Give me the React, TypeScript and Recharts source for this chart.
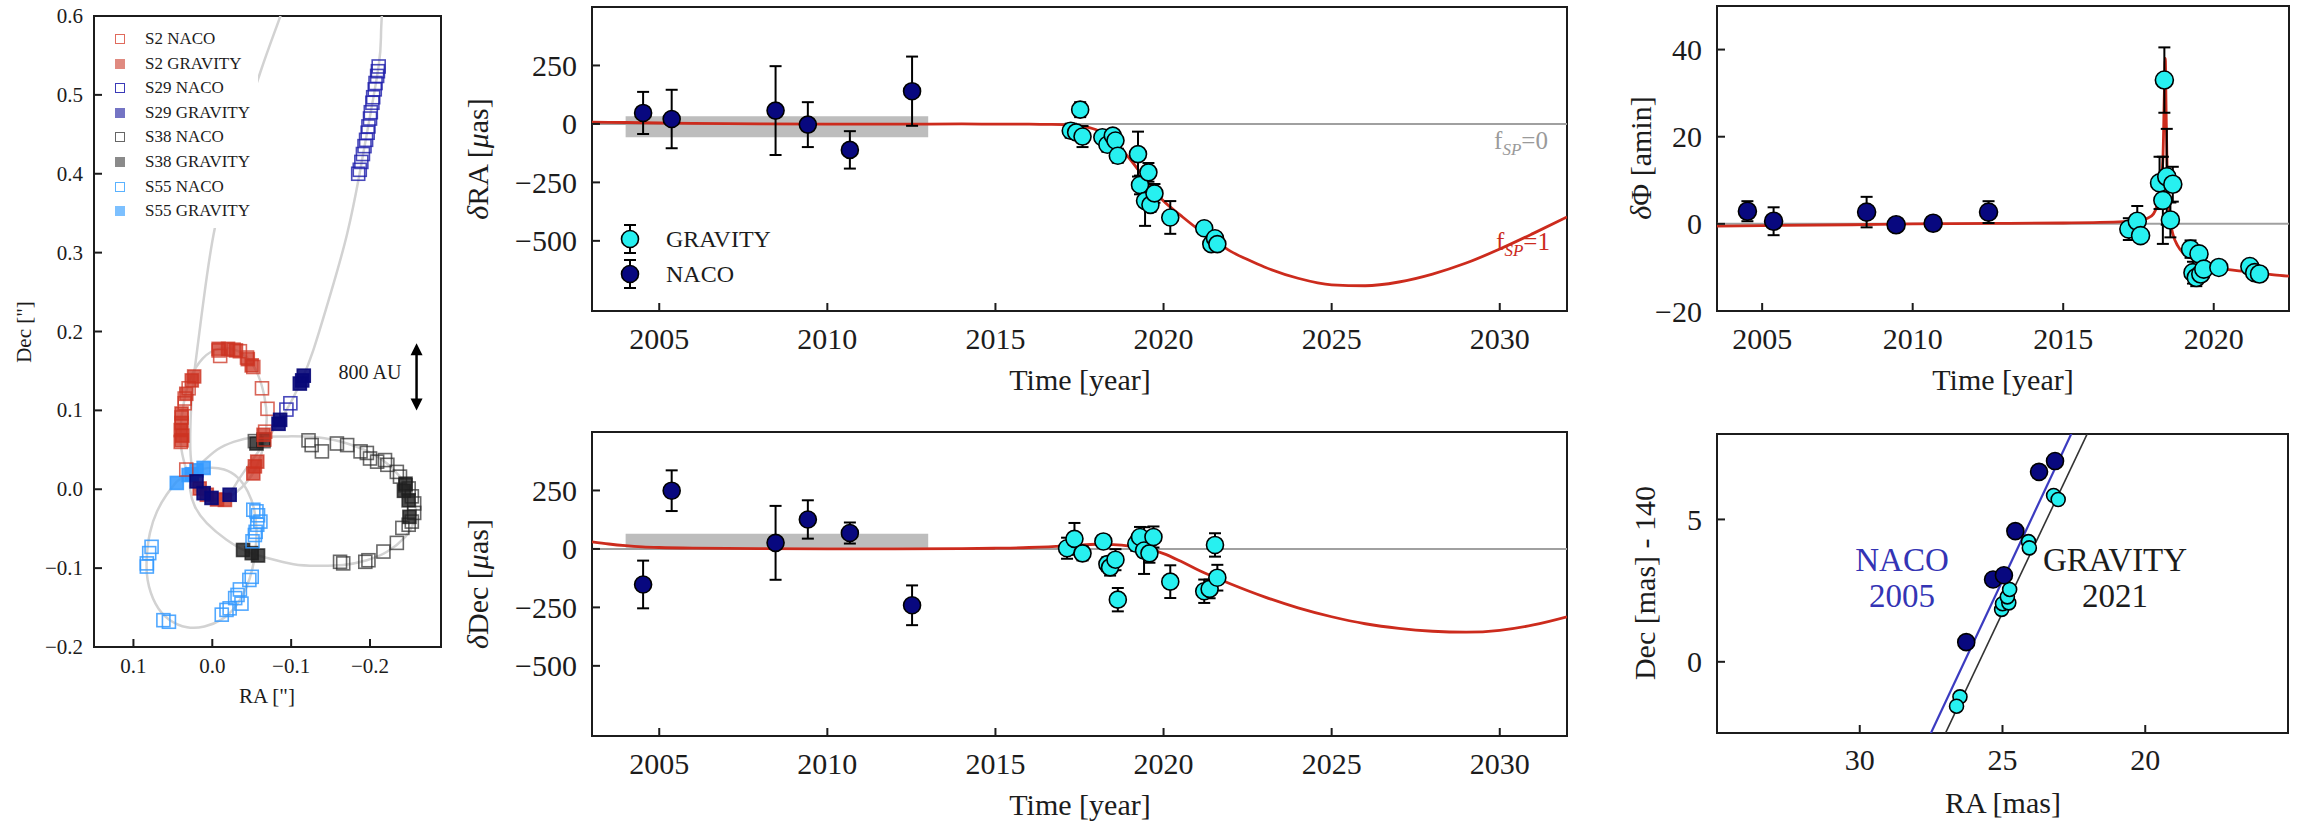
import React from "react";
import {
  ComposedChart,
  ErrorBar,
  Line,
  ReferenceArea,
  ReferenceLine,
  Scatter,
  XAxis,
  YAxis,
} from "recharts";

const W = 2303;
const H = 824;
const SERIF = '"Liberation Serif", "Times New Roman", Times, serif';
const INK = "#1c1c1c";
const RED = "#cc2b1d";
const CYAN = "#27f0f0";
const NAVY = "#08087f";

// ---- left panel: sky positions [RA, Dec] in arcsec ----
const s2Orbit = [
  [0.033, 0.025], [0.039, 0.05], [0.04, 0.08], [0.036, 0.11], [0.028, 0.14], [0.012, 0.166],
  [-0.008, 0.178], [-0.028, 0.177], [-0.045, 0.166], [-0.058, 0.145], [-0.066, 0.118],
  [-0.069, 0.09], [-0.066, 0.06], [-0.058, 0.033], [-0.046, 0.012], [-0.03, -0.004],
  [-0.012, -0.013], [0.005, -0.012], [0.02, -0.002], [0.03, 0.013], [0.033, 0.025],
];
const s29Orbit = [
  [-0.217, 0.63], [-0.214, 0.58], [-0.211, 0.537], [-0.196, 0.451], [-0.186, 0.396],
  [-0.171, 0.324], [-0.15, 0.248], [-0.128, 0.176], [-0.114, 0.14], [-0.099, 0.109],
  [-0.086, 0.088], [-0.07, 0.064], [-0.05, 0.036], [-0.032, 0.01], [-0.022, -0.005],
  [-0.01, -0.012], [0.001, -0.011], [0.011, -0.005], [0.02, 0.01], [0.026, 0.03],
  [0.028, 0.06], [0.027, 0.1], [0.023, 0.147], [0.011, 0.24], [-0.003, 0.33],
  [-0.027, 0.42], [-0.061, 0.529], [-0.086, 0.599], [-0.095, 0.63],
];
const s38Orbit = [
  [0.016, 0.031], [-0.006, 0.05], [-0.027, 0.06], [-0.052, 0.066], [-0.09, 0.067],
  [-0.133, 0.066], [-0.171, 0.058], [-0.205, 0.044], [-0.23, 0.025], [-0.249, 0.001],
  [-0.258, -0.022], [-0.255, -0.043], [-0.245, -0.06], [-0.222, -0.079], [-0.196, -0.09],
  [-0.166, -0.096], [-0.133, -0.097], [-0.103, -0.095], [-0.069, -0.087], [-0.044, -0.079],
  [-0.018, -0.064], [0.007, -0.043], [0.022, -0.022], [0.028, -0.001], [0.026, 0.016],
  [0.016, 0.031],
];
const s55Orbit = [
  [0.045, 0.01], [0.025, 0.022], [0.005, 0.027], [-0.015, 0.025], [-0.032, 0.015],
  [-0.045, -0.003], [-0.053, -0.025], [-0.056, -0.05], [-0.055, -0.075], [-0.051, -0.1],
  [-0.043, -0.125], [-0.03, -0.148], [-0.012, -0.165], [0.01, -0.174], [0.032, -0.175],
  [0.055, -0.165], [0.072, -0.145], [0.082, -0.115], [0.083, -0.085], [0.079, -0.055],
  [0.07, -0.028], [0.058, -0.007], [0.045, 0.01],
];

const s2Naco = [
  [0.033, 0.025], [0.035, 0.109], [0.035, 0.115], [0.03, 0.128], [-0.008, 0.176],
  [-0.01, 0.169], [-0.027, 0.177], [-0.035, 0.175], [-0.044, 0.167], [-0.052, 0.155],
  [-0.063, 0.128], [-0.07, 0.102], [-0.067, 0.073], [-0.066, 0.063], [0.039, 0.091], [0.04, 0.06],
];
const s2Grav = [
  [0.039, 0.096], [0.039, 0.084], [0.04, 0.075], [0.038, 0.068], [0.039, 0.062], [0.033, 0.121],
  [0.026, 0.138], [0.023, 0.143], [0.016, 0.001], [0.007, -0.007], [-0.006, -0.013],
  [-0.016, -0.0135], [-0.052, 0.02], [-0.054, 0.029], [-0.057, 0.035], [-0.065, 0.069],
  [-0.008, 0.178], [-0.02, 0.178], [-0.03, 0.176], [-0.045, 0.165], [-0.05, 0.157],
];
const s29Naco = [
  [-0.185, 0.4], [-0.187, 0.405], [-0.189, 0.415], [-0.191, 0.425], [-0.193, 0.435],
  [-0.195, 0.443], [-0.197, 0.452], [-0.198, 0.46], [-0.2, 0.47], [-0.201, 0.478],
  [-0.203, 0.49], [-0.204, 0.497], [-0.206, 0.507], [-0.207, 0.515], [-0.209, 0.524],
  [-0.21, 0.53], [-0.211, 0.536], [-0.099, 0.109], [-0.094, 0.101],
];
const s29Grav = [
  [-0.114, 0.138], [-0.116, 0.144], [-0.111, 0.134], [-0.086, 0.088], [-0.084, 0.083],
  [0.02, 0.01], [0.011, -0.005], [0.001, -0.011], [-0.022, -0.007],
];
const s38Naco = [
  [-0.054, 0.061], [-0.065, 0.061], [-0.122, 0.062], [-0.126, 0.056], [-0.139, 0.048],
  [-0.158, 0.058], [-0.171, 0.056], [-0.188, 0.048], [-0.196, 0.046], [-0.2, 0.039],
  [-0.209, 0.035], [-0.219, 0.037], [-0.222, 0.031], [-0.234, 0.022], [-0.238, 0.016],
  [-0.245, 0.005], [-0.249, 0.001], [-0.253, -0.009], [-0.256, -0.018], [-0.256, -0.03],
  [-0.253, -0.041], [-0.249, -0.045], [-0.241, -0.049], [-0.234, -0.068], [-0.217, -0.079],
  [-0.198, -0.09], [-0.194, -0.092], [-0.166, -0.094], [-0.162, -0.092],
];
const s38Grav = [
  [-0.039, -0.077], [-0.05, -0.081], [-0.058, -0.084], [-0.065, 0.063], [-0.056, 0.058],
  [-0.245, 0.007], [-0.249, -0.014], [-0.25, -0.035], [-0.243, -0.002],
];
const s55Naco = [
  [-0.052, -0.026], [-0.056, -0.028], [-0.058, -0.033], [-0.061, -0.041], [-0.057, -0.045],
  [-0.055, -0.054], [-0.054, -0.058], [-0.051, -0.066], [-0.05, -0.111], [-0.047, -0.115],
  [-0.035, -0.127], [-0.032, -0.134], [-0.029, -0.138], [-0.037, -0.145], [-0.022, -0.151],
  [-0.018, -0.153], [-0.012, -0.159], [0.077, -0.073], [0.08, -0.081], [0.083, -0.094],
  [0.083, -0.098], [0.062, -0.166], [0.055, -0.168],
];
const s55Grav = [[0.045, 0.008], [0.03, 0.018], [0.026, 0.019], [0.02, 0.024], [0.011, 0.027]];
const skyXTicks = [0.1, 0, -0.1, -0.2];
const skyYTicks = [-0.2, -0.1, 0, 0.1, 0.2, 0.3, 0.4, 0.5, 0.6];

// ---- middle: residuals [year, value, error] in µas ----
const raNaco = [
  [2004.52, 47, 90], [2005.37, 21, 125], [2008.46, 57, 190], [2009.42, -3, 96],
  [2010.67, -111, 80], [2012.52, 140, 148],
];
const raGrav = [
  [2017.24, -29, 30], [2017.4, -36, 25], [2017.52, 61, 32], [2017.59, -54, 45],
  [2018.18, -57, 25], [2018.33, -89, 30], [2018.49, -50, 20], [2018.57, -71, 25],
  [2018.64, -136, 30], [2019.24, -129, 96], [2019.3, -261, 40], [2019.45, -329, 107],
  [2019.55, -207, 40], [2019.61, -346, 30], [2019.73, -297, 40], [2020.2, -400, 70],
  [2021.21, -446, 20], [2021.42, -514, 25], [2021.53, -489, 20], [2021.6, -514, 20],
];
const raModel = [
  [2003, 8], [2004, 6], [2005, 4], [2006, 2], [2008, 0], [2010, -1], [2012, -1], [2014, 0],
  [2015, -1], [2016, -1], [2016.5, -2], [2017, -3], [2017.5, -8], [2018, -25], [2018.5, -70],
  [2019, -150], [2019.5, -245], [2020, -330], [2020.5, -390], [2021, -447], [2021.5, -496],
  [2022, -545], [2022.5, -580], [2023, -612], [2024, -660], [2025, -688], [2026, -692],
  [2027, -676], [2028, -642], [2029, -595], [2030, -535], [2031, -468], [2032, -398],
];
const decNaco = [
  [2004.52, -152, 102], [2005.37, 249, 87], [2008.46, 26, 158], [2009.42, 126, 82],
  [2010.67, 68, 45], [2012.52, -241, 85],
];
const decGrav = [
  [2017.13, 3, 45], [2017.35, 43, 68], [2017.59, -19, 30], [2018.21, 32, 25],
  [2018.33, -65, 30], [2018.41, -79, 35], [2018.57, -46, 45], [2018.64, -217, 50],
  [2019.19, 22, 30], [2019.3, 51, 43], [2019.42, -7, 100], [2019.58, -19, 40],
  [2019.7, 51, 45], [2020.2, -140, 70], [2021.21, -181, 50], [2021.37, -171, 40],
  [2021.53, 17, 50], [2021.6, -123, 55],
];
const decModel = [
  [2003, 30], [2003.5, 21], [2004, 14], [2004.5, 9], [2005, 6], [2006, 3], [2008, 1],
  [2010, 0], [2012, 0], [2014, 1], [2015, 3], [2016, 6], [2017, 12], [2017.5, 17],
  [2018, 20], [2018.5, 18], [2019, 12], [2019.5, 2], [2020, -20], [2020.5, -52],
  [2021, -88], [2021.5, -120], [2022, -150], [2023, -205], [2024, -252], [2025, -290],
  [2026, -320], [2027, -340], [2028, -352], [2029, -356], [2030, -348], [2031, -325], [2032, -290],
];
const yearTicks = [2005, 2010, 2015, 2020, 2025, 2030];
const muasTicks = [-500, -250, 0, 250];
const bandRA = [2004, 2013, -57, 33];
const bandDec = [2004, 2013, 5, 65];

// ---- top right: phase residual [year, amin, error] ----
const phiNaco = [
  [2004.51, 2.9, 2.3], [2005.38, 0.6, 3.2], [2008.47, 2.7, 3.5], [2009.45, -0.2, 1.5],
  [2010.68, 0.15, 1.2], [2012.52, 2.7, 2.5],
];
const phiGrav = [
  [2017.18, -1.2, 2.5], [2017.46, 0.6, 3.5], [2017.57, -2.7, 1.5], [2018.2, 9.4, 6],
  [2018.31, 5.4, 10], [2018.36, 33, 7.5], [2018.44, 10.8, 11], [2018.56, 0.9, 4],
  [2018.64, 9.1, 4], [2019.23, -5.8, 2], [2019.31, -11.2, 2.5], [2019.42, -12.3, 2],
  [2019.51, -6.9, 1.5], [2019.57, -11.5, 1.5], [2019.67, -10.4, 1.5], [2020.17, -10, 1],
  [2021.2, -9.8, 1], [2021.36, -11.2, 1], [2021.52, -11.5, 1],
];
const phiModel = [
  [2003.5, -0.5], [2005, -0.4], [2008, -0.2], [2010, 0], [2013, 0.1], [2015, 0.2],
  [2016, 0.3], [2017, 0.5], [2017.5, 0.8], [2017.8, 1.3], [2018, 2.3], [2018.2, 6.9],
  [2018.31, 14.6], [2018.36, 30], [2018.39, 38], [2018.42, 25], [2018.47, 8], [2018.55, 1],
  [2018.65, -2.5], [2018.8, -5], [2019, -6.8], [2019.3, -8], [2019.6, -9], [2020, -10],
  [2020.5, -10.5], [2021, -10.9], [2021.5, -11.3], [2022, -11.7], [2022.5, -12],
];
const phiYearTicks = [2005, 2010, 2015, 2020];
const phiTicks = [-20, 0, 20, 40];

// ---- bottom right: astrometry [RA mas, Dec-140 mas, errRA, errDec] ----
const naco2005 = [
  [26.27, 0.69, 0.15, 0.2], [25.33, 2.89, 0.15, 0.2], [24.95, 3.04, 0.15, 0.2],
  [24.55, 4.59, 0.15, 0.2], [23.72, 6.67, 0.15, 0.2], [23.16, 7.05, 0.15, 0.2],
];
const grav2021 = [
  [26.49, -1.23], [26.61, -1.56], [25.03, 1.84], [25.0, 2.04], [24.78, 2.07], [24.83, 2.28],
  [24.75, 2.54], [24.09, 4.22], [24.06, 4.0], [23.21, 5.84], [23.05, 5.7],
];
const nacoFit = [[27.6, -2.7], [22.5, 8.2]];
const gravFit = [[27.09, -2.7], [21.94, 8.2]];

// ---------------------------------------------------------------
const pts = (rows: number[][]) => rows.map(([x, y, e]) => ({ x, y, e }));
const minus = (s: string) => s.replace("-", "\u2212");
const fmt1 = (v: number) => minus(v.toFixed(1));
const fmt0 = (v: number) => minus(String(v));

// ticks point inwards, like the matplotlib original
const bottomTick = (fmt: (v: number) => string, fs: number, gap: number) => (p: any) => (
  <g>
    <line x1={p.x} x2={p.x} y1={p.y} y2={p.y - 8} stroke={INK} strokeWidth={2} />
    <text x={p.x} y={p.y + gap} textAnchor="middle" dominantBaseline="central"
      fontSize={fs} fontFamily={SERIF} fill={INK}>
      {fmt(p.payload.value)}
    </text>
  </g>
);
const leftTick = (fmt: (v: number) => string, fs: number, gap: number) => (p: any) => (
  <g>
    <line x1={p.x} x2={p.x + 8} y1={p.y} y2={p.y} stroke={INK} strokeWidth={2} />
    <text x={p.x - gap} y={p.y} textAnchor="end" dominantBaseline="central"
      fontSize={fs} fontFamily={SERIF} fill={INK}>
      {fmt(p.payload.value)}
    </text>
  </g>
);

const square = (color: string, filled: boolean) => (p: any) => (
  <rect x={p.cx - 6.5} y={p.cy - 6.5} width={13} height={13}
    fill={filled ? color : "none"} stroke={color} strokeWidth={1.6} />
);
const dot = (fill: string, r: number) => (p: any) => (
  <circle cx={p.cx} cy={p.cy} r={r} fill={fill} stroke="#000" strokeWidth={1.6} />
);

// plot box [l,t,r,b] -> chart margin; the axes take 1px each
function margin(l: number, t: number, r: number, b: number) {
  return { left: l - 1, top: t, right: W - r, bottom: H - b - 1 };
}

function Txt({ x, y, size, rot = 0, color = INK, children }: any) {
  return (
    <div
      style={{
        position: "absolute", left: x, top: y, fontSize: size, color, lineHeight: 1,
        whiteSpace: "nowrap", transform: `translate(-50%, -50%) rotate(${rot}deg)`,
      }}
    >
      {children}
    </div>
  );
}

function ArrowShape(p: any) {
  const { x1, y1, x2, y2 } = p;
  return (
    <g>
      <line x1={x1} y1={y1 + 8} x2={x2} y2={y2 - 8} stroke="#000" strokeWidth={2.5} />
      <path d={`M${x1 - 6},${y1 + 12} L${x1},${y1} L${x1 + 6},${y1 + 12} Z`} fill="#000" />
      <path d={`M${x2 - 6},${y2 - 12} L${x2},${y2} L${x2 + 6},${y2 - 12} Z`} fill="#000" />
    </g>
  );
}

const orbitLine = (rows: number[][], key: string) => (
  <Line key={key} data={pts(rows)} dataKey="y" type="natural" stroke="#d2d2d2" strokeWidth={2.5}
    dot={false} isAnimationActive={false} />
);
const sq = (rows: number[][], color: string, filled: boolean, key: string) => (
  <Scatter key={key} data={pts(rows)} dataKey="y" shape={square(color, filled)} isAnimationActive={false} />
);

const C = {
  s2: "rgba(204,51,34,0.75)",
  s29: "rgba(28,28,170,0.8)",
  s29g: "rgba(8,8,120,0.9)",
  s38: "rgba(40,40,40,0.7)",
  s38g: "rgba(30,30,30,0.8)",
  s55: "rgba(51,153,255,0.85)",
};

const legendRows = [
  ["S2 NACO", "#e06a5c", false], ["S2 GRAVITY", "#e08a80", true],
  ["S29 NACO", "#3a3ab8", false], ["S29 GRAVITY", "#7474c4", true],
  ["S38 NACO", "#666666", false], ["S38 GRAVITY", "#8a8a8a", true],
  ["S55 NACO", "#5ab2ff", false], ["S55 GRAVITY", "#7cc0ff", true],
] as const;

const axisCommon = {
  type: "number" as const, interval: 0, allowDataOverflow: true, axisLine: false,
  tickLine: false, tickSize: 0, tickMargin: 0,
};

function TimePanel(props: {
  m: any; naco: number[][]; grav: number[][]; model: number[][]; band: number[];
}) {
  const { m, naco, grav, model, band } = props;
  return (
    <div style={{ position: "absolute", left: 0, top: 0 }}>
      <ComposedChart width={W} height={H} margin={m}>
        <XAxis {...axisCommon} dataKey="x" domain={[2003, 2032]} ticks={yearTicks} height={1}
          tick={bottomTick(fmt0, 30, 27)} />
        <YAxis {...axisCommon} dataKey="y" domain={[-800, 500]} ticks={muasTicks} width={1}
          tick={leftTick(fmt0, 30, 15)} />
        <ReferenceArea x1={band[0]} x2={band[1]} y1={band[2]} y2={band[3]} fill="#bdbdbd"
          fillOpacity={1} stroke="none" />
        <ReferenceLine y={0} stroke="#a0a0a0" strokeWidth={2} />
        <Line data={pts(model)} dataKey="y" type="monotone" stroke={RED} strokeWidth={2.8}
          dot={false} isAnimationActive={false} />
        <Scatter data={pts(naco)} dataKey="y" shape={dot(NAVY, 8.5)} isAnimationActive={false}>
          <ErrorBar dataKey="e" direction="y" width={6} stroke="#000" strokeWidth={2}
            isAnimationActive={false} />
        </Scatter>
        <Scatter data={pts(grav)} dataKey="y" shape={dot(CYAN, 8.5)} isAnimationActive={false}>
          <ErrorBar dataKey="e" direction="y" width={6} stroke="#000" strokeWidth={2}
            isAnimationActive={false} />
        </Scatter>
        <ReferenceArea x1={2003} x2={2032} y1={-800} y2={500} fill="none" stroke={INK} strokeWidth={2} />
      </ComposedChart>
    </div>
  );
}

export default function App() {
  return (
    <div style={{ position: "absolute", left: 0, top: 0, width: W, height: H, background: "#fff",
      fontFamily: SERIF, color: INK, overflow: "hidden" }}>
      {/* sky-plane orbits */}
      <div style={{ position: "absolute", left: 0, top: 0 }}>
        <ComposedChart width={W} height={H} margin={margin(94, 16, 441, 647)}>
          <XAxis {...axisCommon} dataKey="x" domain={[-0.29, 0.15]} reversed ticks={skyXTicks}
            height={1} tick={bottomTick(fmt1, 21, 19)} />
          <YAxis {...axisCommon} dataKey="y" domain={[-0.2, 0.6]} ticks={skyYTicks} width={1}
            tick={leftTick(fmt1, 21, 11)} />
          {orbitLine(s2Orbit, "o2")}
          {orbitLine(s29Orbit, "o29")}
          {orbitLine(s38Orbit, "o38")}
          {orbitLine(s55Orbit, "o55")}
          {sq(s38Naco, C.s38, false, "a")}
          {sq(s38Grav, C.s38g, true, "b")}
          {sq(s55Naco, C.s55, false, "c")}
          {sq(s55Grav, C.s55, true, "d")}
          {sq(s2Naco, C.s2, false, "e")}
          {sq(s2Grav, C.s2, true, "f")}
          {sq(s29Naco, C.s29, false, "g")}
          {sq(s29Grav, C.s29g, true, "h")}
          <ReferenceLine segment={[{ x: -0.259, y: 0.185 }, { x: -0.259, y: 0.1 }]} shape={ArrowShape} />
          <ReferenceArea x1={-0.29} x2={0.15} y1={-0.2} y2={0.6} fill="none" stroke={INK} strokeWidth={2} />
        </ComposedChart>
      </div>

      <TimePanel m={margin(592, 7, 1567, 311)} naco={raNaco} grav={raGrav} model={raModel} band={bandRA} />
      <TimePanel m={margin(592, 432, 1567, 736)} naco={decNaco} grav={decGrav} model={decModel} band={bandDec} />

      {/* phase residual */}
      <div style={{ position: "absolute", left: 0, top: 0 }}>
        <ComposedChart width={W} height={H} margin={margin(1717, 6, 2289, 311)}>
          <XAxis {...axisCommon} dataKey="x" domain={[2003.5, 2022.5]} ticks={phiYearTicks} height={1}
            tick={bottomTick(fmt0, 30, 27)} />
          <YAxis {...axisCommon} dataKey="y" domain={[-20, 50]} ticks={phiTicks} width={1}
            tick={leftTick(fmt0, 30, 15)} />
          <ReferenceLine y={0} stroke="#a0a0a0" strokeWidth={2} />
          <Line data={pts(phiModel)} dataKey="y" type="monotone" stroke={RED} strokeWidth={2.8}
            dot={false} isAnimationActive={false} />
          <Scatter data={pts(phiNaco)} dataKey="y" shape={dot(NAVY, 9)} isAnimationActive={false}>
            <ErrorBar dataKey="e" direction="y" width={6} stroke="#000" strokeWidth={2} isAnimationActive={false} />
          </Scatter>
          <Scatter data={pts(phiGrav)} dataKey="y" shape={dot(CYAN, 9)} isAnimationActive={false}>
            <ErrorBar dataKey="e" direction="y" width={6} stroke="#000" strokeWidth={2} isAnimationActive={false} />
          </Scatter>
          <ReferenceArea x1={2003.5} x2={2022.5} y1={-20} y2={50} fill="none" stroke={INK} strokeWidth={2} />
        </ComposedChart>
      </div>

      {/* astrometry zoom */}
      <div style={{ position: "absolute", left: 0, top: 0 }}>
        <ComposedChart width={W} height={H} margin={margin(1717, 434, 2288, 733)}>
          <XAxis {...axisCommon} dataKey="x" domain={[15, 35]} reversed ticks={[30, 25, 20]} height={1}
            tick={bottomTick(fmt0, 30, 26)} />
          <YAxis {...axisCommon} dataKey="y" domain={[-2.5, 8]} ticks={[0, 5]} width={1}
            tick={leftTick(fmt0, 30, 15)} />
          <Line data={pts(nacoFit)} dataKey="y" type="linear" stroke="#3b3bc0" strokeWidth={2.2}
            dot={false} isAnimationActive={false} />
          <Line data={pts(gravFit)} dataKey="y" type="linear" stroke="#333" strokeWidth={1.6}
            dot={false} isAnimationActive={false} />
          <Scatter data={pts(grav2021)} dataKey="y" shape={dot(CYAN, 7)} isAnimationActive={false} />
          <Scatter data={naco2005.map(([x, y, ex, ey]) => ({ x, y, ex, ey }))} dataKey="y"
            shape={dot(NAVY, 8.5)} isAnimationActive={false}>
            <ErrorBar dataKey="ex" direction="x" width={0} stroke="#000" strokeWidth={2} isAnimationActive={false} />
            <ErrorBar dataKey="ey" direction="y" width={0} stroke="#000" strokeWidth={2} isAnimationActive={false} />
          </Scatter>
          <ReferenceArea x1={15} x2={35} y1={-2.5} y2={8} fill="none" stroke={INK} strokeWidth={2} />
        </ComposedChart>
      </div>

      {/* legend, left panel */}
      <div style={{ position: "absolute", left: 104, top: 24, width: 154, height: 204, background: "#fff" }} />
      {legendRows.map(([label, color, filled], i) => (
        <React.Fragment key={label}>
          <div style={{
            position: "absolute", left: 115, top: 39 + i * 24.6 - 5, width: 10, height: 10,
            boxSizing: "border-box", border: `1.5px solid ${color}`, background: filled ? color : "transparent",
          }} />
          <div style={{ position: "absolute", left: 145, top: 39 + i * 24.6 - 10, fontSize: 17, lineHeight: "20px",
            whiteSpace: "nowrap" }}>{label}</div>
        </React.Fragment>
      ))}
      <Txt x={370} y={372} size={20}>800 AU</Txt>
      <Txt x={24} y={332} size={21} rot={-90}>Dec ["]</Txt>
      <Txt x={267} y={696} size={21}>RA ["]</Txt>

      {/* legend, middle top */}
      {[[CYAN, "GRAVITY", 239], [NAVY, "NACO", 274]].map(([c, label, y]: any) => (
        <React.Fragment key={label}>
          <svg style={{ position: "absolute", left: 618, top: y - 16 }} width={24} height={32}>
            <line x1={12} x2={12} y1={2} y2={30} stroke="#000" strokeWidth={2} />
            <line x1={6} x2={18} y1={2} y2={2} stroke="#000" strokeWidth={2} />
            <line x1={6} x2={18} y1={30} y2={30} stroke="#000" strokeWidth={2} />
            <circle cx={12} cy={16} r={8.5} fill={c} stroke="#000" strokeWidth={1.6} />
          </svg>
          <div style={{ position: "absolute", left: 666, top: y - 12, fontSize: 24, lineHeight: "24px" }}>{label}</div>
        </React.Fragment>
      ))}
      <Txt x={1521} y={143} size={25} color="#9a9a9a">
        f<sub style={{ fontStyle: "italic", fontSize: 17 }}>SP</sub>=0
      </Txt>
      <Txt x={1523} y={244} size={25} color={RED}>
        f<sub style={{ fontStyle: "italic", fontSize: 17 }}>SP</sub>=1
      </Txt>

      <Txt x={478} y={159} size={30} rot={-90}><i>δ</i>RA [<i>μ</i>as]</Txt>
      <Txt x={478} y={584} size={30} rot={-90}><i>δ</i>Dec [<i>μ</i>as]</Txt>
      <Txt x={1080} y={380} size={30}>Time [year]</Txt>
      <Txt x={1080} y={805} size={30}>Time [year]</Txt>

      <Txt x={1641} y={158} size={30} rot={-90}><i>δ</i>Φ [amin]</Txt>
      <Txt x={2003} y={380} size={30}>Time [year]</Txt>
      <Txt x={1645} y={583} size={30} rot={-90}>Dec [mas] - 140</Txt>
      <Txt x={2003} y={803} size={30}>RA [mas]</Txt>
      <Txt x={1902} y={560} size={33} color="#3434b4">NACO</Txt>
      <Txt x={1902} y={596} size={33} color="#3434b4">2005</Txt>
      <Txt x={2115} y={560} size={33}>GRAVITY</Txt>
      <Txt x={2115} y={596} size={33}>2021</Txt>
    </div>
  );
}
